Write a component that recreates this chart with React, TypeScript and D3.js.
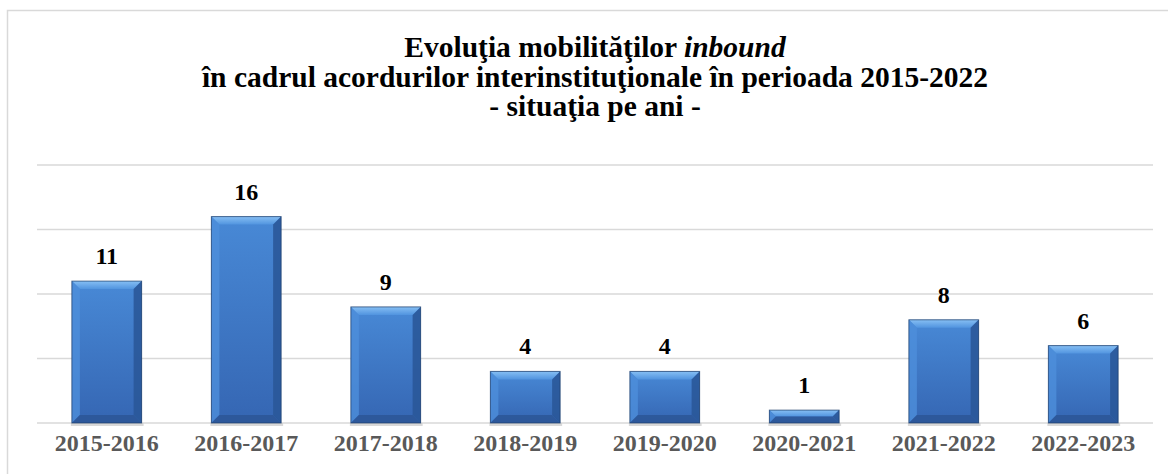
import React from 'react';
import * as d3 from 'd3';

const categories = ['2015-2016', '2016-2017', '2017-2018', '2018-2019', '2019-2020', '2020-2021', '2021-2022', '2022-2023'];
const values = [11, 16, 9, 4, 4, 1, 8, 6];
const yTicks = [0, 5, 10, 15, 20];

const W = 1168;
const H = 474;
const font = '"Liberation Serif", "Times New Roman", serif';

const App = () => {
  const x = d3.scaleBand<string>().domain(categories).range([37, 1153]).paddingInner(0.5).paddingOuter(0.25);
  const y = d3.scaleLinear().domain([0, 20]).range([423, 165]);
  const cx = 595;

  return (
    <svg width={W} height={H} style={{ position: 'absolute', left: 0, top: 0 }}>
      <defs>
        <linearGradient id="body" x1="0" y1="0" x2="0" y2="1">
          <stop offset="0" stopColor="#4889d6" />
          <stop offset="1" stopColor="#3566b3" />
        </linearGradient>
        <linearGradient id="topb" x1="0" y1="0" x2="0" y2="1">
          <stop offset="0" stopColor="#86bff4" />
          <stop offset="1" stopColor="#5194df" />
        </linearGradient>
      </defs>
      <rect x={7.5} y={10.5} width={1200} height={500} fill="#fff" stroke="#d9d9d9" strokeWidth={1.5} />

      {/* grid */}
      {yTicks.map((t) => (
        <line key={t} x1={37} x2={1153} y1={y(t)} y2={y(t)} stroke="#d9d9d9" strokeWidth={1.5} />
      ))}

      {/* title */}
      <text x={cx} textAnchor="middle" fontFamily={font} fontWeight="bold" fontSize={29.5} fill="#000">
        <tspan x={cx} y={57}>
          Evoluţia mobilităţilor <tspan fontStyle="italic">inbound</tspan>
        </tspan>
        <tspan x={cx} y={87}>în cadrul acordurilor interinstituţionale în perioada 2015-2022</tspan>
        <tspan x={cx} y={116}>- situaţia pe ani -</tspan>
      </text>

      {/* bars */}
      {categories.map((c, i) => {
        const bx = x(c) as number;
        const bw = x.bandwidth();
        const by = y(values[i]);
        const bh = y(0) - by;
        const b = Math.min(8, bh / 2);
        const r = bx + bw;
        const bot = by + bh;
        return (
          <g key={c}>
            <rect x={bx - 1} y={bot} width={bw + 3} height={3} fill="#cfcfcf" opacity={0.8} />
            <rect x={bx} y={by} width={bw} height={bh} fill="url(#body)" />
            <polygon points={`${bx},${by} ${r},${by} ${r - b},${by + b} ${bx + b},${by + b}`} fill="url(#topb)" />
            <polygon points={`${bx},${by} ${bx + b},${by + b} ${bx + b},${bot - b} ${bx},${bot}`} fill="#4d8fdb" opacity={0.8} />
            <polygon points={`${r},${by} ${r - b},${by + b} ${r - b},${bot - b} ${r},${bot}`} fill="#2a5899" opacity={0.9} />
            <polygon points={`${bx},${bot} ${bx + b},${bot - b} ${r - b},${bot - b} ${r},${bot}`} fill="#2b5696" opacity={0.85} />
            <rect x={bx} y={by} width={bw} height={bh} fill="none" stroke="#1d3c68" strokeWidth={1} opacity={0.7} />
            <text x={bx + bw / 2} y={by - 17} textAnchor="middle" fontFamily={font} fontWeight="bold" fontSize={24} fill="#000">
              {values[i]}
            </text>
            <text x={bx + bw / 2} y={451} textAnchor="middle" fontFamily={font} fontWeight="bold" fontSize={24} fill="#595959">
              {c}
            </text>
          </g>
        );
      })}
    </svg>
  );
};

export default App;
